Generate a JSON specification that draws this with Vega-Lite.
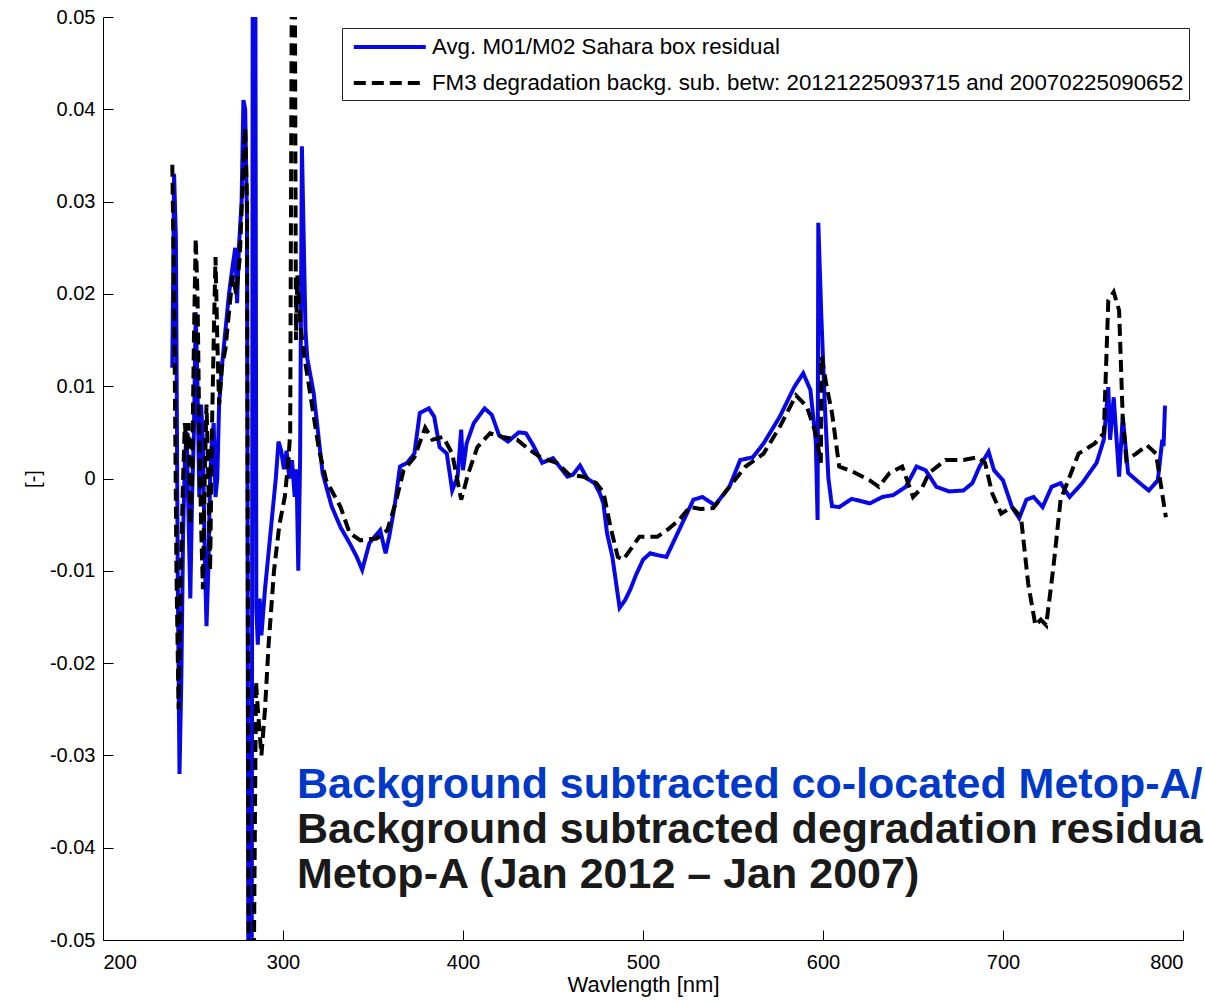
{
  "$schema": "https://vega.github.io/schema/vega-lite/v6.json",
  "width": 1080,
  "height": 923,
  "autosize": {"type": "none"},
  "padding": {"left": 103, "top": 17, "right": 22, "bottom": 63},
  "background": "white",
  "config": {"view": {"stroke": null}, "font": "Liberation Sans"},
  "datasets": {
    "lines": [
      {"s":"b","nm":238.5,"v":0.012},{"s":"b","nm":239.5,"v":0.033},{"s":"b","nm":240.5,"v":0.026},{"s":"b","nm":241.5,"v":-0.010},{"s":"b","nm":242.5,"v":-0.032},{"s":"b","nm":243.5,"v":-0.022},{"s":"b","nm":244.5,"v":-0.006},{"s":"b","nm":245.5,"v":0.002},{"s":"b","nm":246.5,"v":0.005},{"s":"b","nm":247.5,"v":-0.004},{"s":"b","nm":248.5,"v":-0.013},{"s":"b","nm":249.5,"v":-0.002},{"s":"b","nm":250.5,"v":0.005},{"s":"b","nm":251.5,"v":0.018},{"s":"b","nm":252.5,"v":0.010},{"s":"b","nm":253.5,"v":-0.002},{"s":"b","nm":254.5,"v":0.008},{"s":"b","nm":255.5,"v":0.004},{"s":"b","nm":256.5,"v":-0.008},{"s":"b","nm":257.5,"v":-0.016},{"s":"b","nm":258.5,"v":-0.010},{"s":"b","nm":259.5,"v":0.000},{"s":"b","nm":260.5,"v":0.004},{"s":"b","nm":261.5,"v":0.006},{"s":"b","nm":262.5,"v":-0.002},{"s":"b","nm":263.5,"v":0.000},{"s":"b","nm":264.5,"v":0.008},{"s":"b","nm":266,"v":0.012},{"s":"b","nm":268,"v":0.016},{"s":"b","nm":270,"v":0.020},{"s":"b","nm":272,"v":0.023},{"s":"b","nm":273.5,"v":0.025},{"s":"b","nm":274.5,"v":0.019},{"s":"b","nm":275.5,"v":0.025},{"s":"b","nm":277,"v":0.030},{"s":"b","nm":278,"v":0.041},{"s":"b","nm":279,"v":0.040},{"s":"b","nm":280,"v":0.028},{"s":"b","nm":280.8,"v":-0.06},{"s":"b","nm":282.6,"v":-0.06},{"s":"b","nm":283.2,"v":0.06},{"s":"b","nm":284.6,"v":0.06},{"s":"b","nm":285.2,"v":-0.014},{"s":"b","nm":286,"v":-0.018},{"s":"b","nm":287,"v":-0.013},{"s":"b","nm":288,"v":-0.017},{"s":"b","nm":290,"v":-0.012},{"s":"b","nm":292,"v":-0.008},{"s":"b","nm":294,"v":-0.004},{"s":"b","nm":296,"v":0.000},{"s":"b","nm":297.5,"v":0.004},{"s":"b","nm":299,"v":0.003},{"s":"b","nm":300.5,"v":0.001},{"s":"b","nm":302,"v":0.003},{"s":"b","nm":303.5,"v":0.000},{"s":"b","nm":305,"v":0.002},{"s":"b","nm":306.5,"v":-0.002},{"s":"b","nm":307.5,"v":0.001},{"s":"b","nm":308.5,"v":-0.010},{"s":"b","nm":309.5,"v":0.002},{"s":"b","nm":310.5,"v":0.036},{"s":"b","nm":311.5,"v":0.026},{"s":"b","nm":312.5,"v":0.016},{"s":"b","nm":313.5,"v":0.013},{"s":"b","nm":317,"v":0.0093},{"s":"b","nm":322,"v":0.0006},{"s":"b","nm":327,"v":-0.003},{"s":"b","nm":332,"v":-0.0053},{"s":"b","nm":337,"v":-0.007},{"s":"b","nm":341,"v":-0.0085},{"s":"b","nm":344,"v":-0.0099},{"s":"b","nm":348,"v":-0.007},{"s":"b","nm":354,"v":-0.0056},{"s":"b","nm":357,"v":-0.0081},{"s":"b","nm":359,"v":-0.0063},{"s":"b","nm":362,"v":-0.003},{"s":"b","nm":365,"v":0.0013},{"s":"b","nm":369,"v":0.0017},{"s":"b","nm":373,"v":0.0027},{"s":"b","nm":376,"v":0.0071},{"s":"b","nm":381,"v":0.0076},{"s":"b","nm":384,"v":0.0067},{"s":"b","nm":387,"v":0.0034},{"s":"b","nm":391,"v":0.0027},{"s":"b","nm":394,"v":-0.0013},{"s":"b","nm":397,"v":0.0002},{"s":"b","nm":399,"v":0.0053},{"s":"b","nm":400,"v":0.0009},{"s":"b","nm":402,"v":0.0038},{"s":"b","nm":406,"v":0.006},{"s":"b","nm":412,"v":0.0076},{"s":"b","nm":416,"v":0.0069},{"s":"b","nm":420,"v":0.0047},{"s":"b","nm":425,"v":0.004},{"s":"b","nm":431,"v":0.005},{"s":"b","nm":435,"v":0.0049},{"s":"b","nm":439,"v":0.0036},{"s":"b","nm":444,"v":0.0017},{"s":"b","nm":450,"v":0.0022},{"s":"b","nm":458,"v":0.0002},{"s":"b","nm":461,"v":0.0004},{"s":"b","nm":465,"v":0.0014},{"s":"b","nm":469,"v":0.0},{"s":"b","nm":473,"v":-0.0005},{"s":"b","nm":476,"v":-0.0016},{"s":"b","nm":478,"v":-0.0027},{"s":"b","nm":480,"v":-0.0059},{"s":"b","nm":483,"v":-0.0085},{"s":"b","nm":487,"v":-0.014},{"s":"b","nm":490,"v":-0.0132},{"s":"b","nm":493,"v":-0.012},{"s":"b","nm":496,"v":-0.0105},{"s":"b","nm":500,"v":-0.0088},{"s":"b","nm":504,"v":-0.0081},{"s":"b","nm":508,"v":-0.0083},{"s":"b","nm":513,"v":-0.0085},{"s":"b","nm":520,"v":-0.0056},{"s":"b","nm":528,"v":-0.0023},{"s":"b","nm":533,"v":-0.002},{"s":"b","nm":540,"v":-0.0029},{"s":"b","nm":548,"v":-0.0009},{"s":"b","nm":554,"v":0.002},{"s":"b","nm":561,"v":0.0023},{"s":"b","nm":567,"v":0.0038},{"s":"b","nm":576,"v":0.0067},{"s":"b","nm":584,"v":0.0099},{"s":"b","nm":589,"v":0.0114},{"s":"b","nm":593,"v":0.0096},{"s":"b","nm":596,"v":0.004},{"s":"b","nm":597,"v":-0.0045},{"s":"b","nm":597.4,"v":0.0277},{"s":"b","nm":599,"v":0.018},{"s":"b","nm":601,"v":0.008},{"s":"b","nm":603,"v":0.0},{"s":"b","nm":605,"v":-0.003},{"s":"b","nm":609,"v":-0.0031},{"s":"b","nm":616,"v":-0.0022},{"s":"b","nm":626,"v":-0.0027},{"s":"b","nm":633,"v":-0.002},{"s":"b","nm":639,"v":-0.0018},{"s":"b","nm":646,"v":-0.0009},{"s":"b","nm":652,"v":0.0013},{"s":"b","nm":657,"v":0.0009},{"s":"b","nm":663,"v":-0.0009},{"s":"b","nm":670,"v":-0.0014},{"s":"b","nm":678,"v":-0.0013},{"s":"b","nm":683,"v":-0.0005},{"s":"b","nm":687,"v":0.0013},{"s":"b","nm":692,"v":0.0029},{"s":"b","nm":695,"v":0.0009},{"s":"b","nm":700,"v":-0.0002},{"s":"b","nm":705,"v":-0.0031},{"s":"b","nm":709,"v":-0.0043},{"s":"b","nm":713,"v":-0.0023},{"s":"b","nm":717,"v":-0.002},{"s":"b","nm":722,"v":-0.0031},{"s":"b","nm":727,"v":-0.0009},{"s":"b","nm":732,"v":-0.0005},{"s":"b","nm":737,"v":-0.002},{"s":"b","nm":744,"v":-0.0005},{"s":"b","nm":752,"v":0.0017},{"s":"b","nm":756,"v":0.0042},{"s":"b","nm":758.5,"v":0.0099},{"s":"b","nm":759.5,"v":0.0042},{"s":"b","nm":761.5,"v":0.0088},{"s":"b","nm":764.5,"v":0.0002},{"s":"b","nm":766.5,"v":0.0067},{"s":"b","nm":769.5,"v":0.0006},{"s":"b","nm":776,"v":-0.0005},{"s":"b","nm":781,"v":-0.0013},{"s":"b","nm":786,"v":-0.0002},{"s":"b","nm":788.5,"v":0.0042},{"s":"b","nm":789.2,"v":0.0035},{"s":"b","nm":790,"v":0.0079},
      {"s":"k","nm":238.5,"v":0.034},{"s":"k","nm":239.5,"v":0.020},{"s":"k","nm":240.8,"v":-0.010},{"s":"k","nm":242.0,"v":-0.025},{"s":"k","nm":243.5,"v":-0.008},{"s":"k","nm":244.5,"v":0.000},{"s":"k","nm":245.5,"v":0.006},{"s":"k","nm":246.5,"v":0.003},{"s":"k","nm":247.5,"v":0.006},{"s":"k","nm":248.5,"v":-0.005},{"s":"k","nm":249.5,"v":0.000},{"s":"k","nm":250.5,"v":0.015},{"s":"k","nm":251.5,"v":0.026},{"s":"k","nm":252.5,"v":0.020},{"s":"k","nm":253.5,"v":0.005},{"s":"k","nm":254.5,"v":-0.005},{"s":"k","nm":255.5,"v":-0.012},{"s":"k","nm":256.5,"v":0.000},{"s":"k","nm":257.5,"v":0.008},{"s":"k","nm":258.5,"v":0.000},{"s":"k","nm":259.5,"v":-0.010},{"s":"k","nm":260.5,"v":0.005},{"s":"k","nm":261.5,"v":0.015},{"s":"k","nm":262.5,"v":0.024},{"s":"k","nm":263.5,"v":0.015},{"s":"k","nm":264.5,"v":0.008},{"s":"k","nm":266,"v":0.012},{"s":"k","nm":268,"v":0.014},{"s":"k","nm":270,"v":0.018},{"s":"k","nm":272,"v":0.022},{"s":"k","nm":274,"v":0.020},{"s":"k","nm":276,"v":0.024},{"s":"k","nm":278,"v":0.034},{"s":"k","nm":279,"v":0.038},{"s":"k","nm":280,"v":0.030},{"s":"k","nm":281,"v":-0.06},{"s":"k","nm":283.5,"v":-0.06},{"s":"k","nm":285,"v":-0.022},{"s":"k","nm":286,"v":-0.025},{"s":"k","nm":288,"v":-0.030},{"s":"k","nm":290,"v":-0.025},{"s":"k","nm":292,"v":-0.018},{"s":"k","nm":295,"v":-0.010},{"s":"k","nm":298,"v":-0.005},{"s":"k","nm":301,"v":-0.002},{"s":"k","nm":303,"v":0.002},{"s":"k","nm":304,"v":0.005},{"s":"k","nm":305,"v":0.06},{"s":"k","nm":306.5,"v":0.06},{"s":"k","nm":307.2,"v":0.015},{"s":"k","nm":308,"v":0.022},{"s":"k","nm":309,"v":0.019},{"s":"k","nm":310,"v":0.016},{"s":"k","nm":312,"v":0.013},{"s":"k","nm":313,"v":0.0118},{"s":"k","nm":320,"v":0.0031},{"s":"k","nm":324,"v":-0.0002},{"s":"k","nm":332,"v":-0.0031},{"s":"k","nm":337,"v":-0.0059},{"s":"k","nm":343,"v":-0.0067},{"s":"k","nm":352,"v":-0.0065},{"s":"k","nm":358,"v":-0.0056},{"s":"k","nm":363,"v":-0.0023},{"s":"k","nm":367,"v":0.0009},{"s":"k","nm":373,"v":0.0023},{"s":"k","nm":379,"v":0.0055},{"s":"k","nm":383,"v":0.0042},{"s":"k","nm":389,"v":0.0045},{"s":"k","nm":394,"v":0.0027},{"s":"k","nm":399,"v":-0.0023},{"s":"k","nm":403,"v":0.0006},{"s":"k","nm":408,"v":0.0034},{"s":"k","nm":415,"v":0.0049},{"s":"k","nm":422,"v":0.0045},{"s":"k","nm":430,"v":0.0042},{"s":"k","nm":437,"v":0.0031},{"s":"k","nm":443,"v":0.0023},{"s":"k","nm":452,"v":0.0017},{"s":"k","nm":459,"v":0.0004},{"s":"k","nm":467,"v":0.0002},{"s":"k","nm":474,"v":-0.0005},{"s":"k","nm":478,"v":-0.0015},{"s":"k","nm":482,"v":-0.0053},{"s":"k","nm":486,"v":-0.0085},{"s":"k","nm":489,"v":-0.0088},{"s":"k","nm":493,"v":-0.0077},{"s":"k","nm":498,"v":-0.0063},{"s":"k","nm":503,"v":-0.0063},{"s":"k","nm":508,"v":-0.0063},{"s":"k","nm":514,"v":-0.0055},{"s":"k","nm":520,"v":-0.0045},{"s":"k","nm":526,"v":-0.0031},{"s":"k","nm":532,"v":-0.0033},{"s":"k","nm":539,"v":-0.0032},{"s":"k","nm":548,"v":-0.0009},{"s":"k","nm":557,"v":0.0013},{"s":"k","nm":567,"v":0.0027},{"s":"k","nm":576,"v":0.0056},{"s":"k","nm":585,"v":0.009},{"s":"k","nm":591,"v":0.0078},{"s":"k","nm":596,"v":0.0049},{"s":"k","nm":598.8,"v":0.0017},{"s":"k","nm":599.2,"v":0.0132},{"s":"k","nm":602,"v":0.010},{"s":"k","nm":605,"v":0.0071},{"s":"k","nm":609,"v":0.0013},{"s":"k","nm":618,"v":0.0006},{"s":"k","nm":626,"v":-0.0002},{"s":"k","nm":631,"v":-0.0009},{"s":"k","nm":637,"v":0.0006},{"s":"k","nm":644,"v":0.0013},{"s":"k","nm":650,"v":-0.002},{"s":"k","nm":655,"v":-0.001},{"s":"k","nm":659,"v":0.0006},{"s":"k","nm":668,"v":0.002},{"s":"k","nm":678,"v":0.002},{"s":"k","nm":686,"v":0.0023},{"s":"k","nm":690,"v":0.0017},{"s":"k","nm":694,"v":-0.0016},{"s":"k","nm":699,"v":-0.0038},{"s":"k","nm":705,"v":-0.0031},{"s":"k","nm":710,"v":-0.0042},{"s":"k","nm":714,"v":-0.0114},{"s":"k","nm":718,"v":-0.0159},{"s":"k","nm":721,"v":-0.0153},{"s":"k","nm":724,"v":-0.0159},{"s":"k","nm":728,"v":-0.0096},{"s":"k","nm":732,"v":-0.0023},{"s":"k","nm":742,"v":0.0027},{"s":"k","nm":751,"v":0.0038},{"s":"k","nm":756,"v":0.0049},{"s":"k","nm":758.5,"v":0.0193},{"s":"k","nm":761.5,"v":0.0202},{"s":"k","nm":764.5,"v":0.0182},{"s":"k","nm":766.5,"v":0.0067},{"s":"k","nm":768.5,"v":0.002},{"s":"k","nm":774,"v":0.0027},{"s":"k","nm":780,"v":0.0036},{"s":"k","nm":785,"v":0.0027},{"s":"k","nm":790.5,"v":-0.0042}
    ],
    "notes": [
      {"g":"blue","nm":307.8,"v":-0.0346,"t":"Background subtracted co-located Metop-A/"},
      {"g":"black","nm":307.8,"v":-0.0395,"t":"Background subtracted degradation residual"},
      {"g":"black","nm":307.8,"v":-0.0444,"t":"Metop-A (Jan 2012 – Jan 2007)"}
    ]
  },
  "layer": [
    {
      "data": {"name": "lines"},
      "mark": {"type": "line", "clip": true, "strokeWidth": 4},
      "encoding": {
        "x": {"field": "nm", "type": "quantitative",
          "scale": {"domain": [200, 800], "nice": false, "zero": false},
          "axis": {"values": [200, 300, 400, 500, 600, 700, 800], "grid": false, "title": "Wavlength [nm]",
            "domainColor": "#000", "tickColor": "#000", "tickSize": -10, "labelPadding": 22,
            "labelFont": "Liberation Sans", "labelFontSize": 20, "labelColor": "#000",
            "titleFont": "Liberation Sans", "titleFontSize": 22, "titleFontWeight": "normal", "titleColor": "#000", "titlePadding": 2}},
        "y": {"field": "v", "type": "quantitative",
          "scale": {"domain": [-0.05, 0.05], "nice": false, "zero": false},
          "axis": {"values": [-0.05, -0.04, -0.03, -0.02, -0.01, 0, 0.01, 0.02, 0.03, 0.04, 0.05], "grid": false, "title": "[-]",
            "labelExpr": "replace(format(datum.value, '.2~f'), '\u2212', '-')",
            "domainColor": "#000", "tickColor": "#000", "tickSize": -10, "labelPadding": 18,
            "labelFont": "Liberation Sans", "labelFontSize": 20, "labelColor": "#000",
            "titleFont": "Liberation Sans", "titleFontSize": 20, "titleFontWeight": "normal", "titleColor": "#000", "titlePadding": 6}},
        "color": {"field": "s", "type": "nominal",
          "scale": {"domain": ["b", "k"], "range": ["#0808e6", "#000000"]},
          "legend": {"title": null, "orient": "none", "legendX": 239, "legendY": 11,
            "labelExpr": "datum.label == 'b' ? 'Avg. M01/M02 Sahara box residual' : 'FM3 degradation backg. sub. betw: 20121225093715 and 20070225090652'",
            "symbolType": "M-0.6,0H5.4", "symbolSize": 576, "symbolStrokeWidth": 4,
            "labelFont": "Liberation Sans", "labelFontSize": 22.3, "labelColor": "#000", "labelLimit": 2000, "labelOffset": 57,
            "padding": 5, "rowPadding": 10, "strokeColor": "#222", "fillColor": "white"}},
        "strokeDash": {"field": "s", "type": "nominal",
          "scale": {"domain": ["b", "k"], "range": [[1, 0], [12, 6]]},
          "legend": {"title": null, "orient": "none", "legendX": 239, "legendY": 11,
            "labelExpr": "datum.label == 'b' ? 'Avg. M01/M02 Sahara box residual' : 'FM3 degradation backg. sub. betw: 20121225093715 and 20070225090652'",
            "symbolType": "M-0.6,0H5.4", "symbolSize": 576, "symbolStrokeWidth": 4,
            "labelFont": "Liberation Sans", "labelFontSize": 22.3, "labelColor": "#000", "labelLimit": 2000, "labelOffset": 57,
            "padding": 5, "rowPadding": 10, "strokeColor": "#222", "fillColor": "white"}}
      }
    },
    {
      "data": {"name": "notes"},
      "transform": [{"filter": "datum.g == 'blue'"}],
      "mark": {"type": "text", "align": "left", "baseline": "alphabetic", "font": "Liberation Sans", "fontWeight": "bold", "fontSize": 43, "color": "#0038c8"},
      "encoding": {
        "x": {"field": "nm", "type": "quantitative"},
        "y": {"field": "v", "type": "quantitative"},
        "text": {"field": "t"}
      }
    },
    {
      "data": {"name": "notes"},
      "transform": [{"filter": "datum.g == 'black'"}],
      "mark": {"type": "text", "align": "left", "baseline": "alphabetic", "font": "Liberation Sans", "fontWeight": "bold", "fontSize": 43, "color": "#1a1a1a"},
      "encoding": {
        "x": {"field": "nm", "type": "quantitative"},
        "y": {"field": "v", "type": "quantitative"},
        "text": {"field": "t"}
      }
    }
  ]
}
